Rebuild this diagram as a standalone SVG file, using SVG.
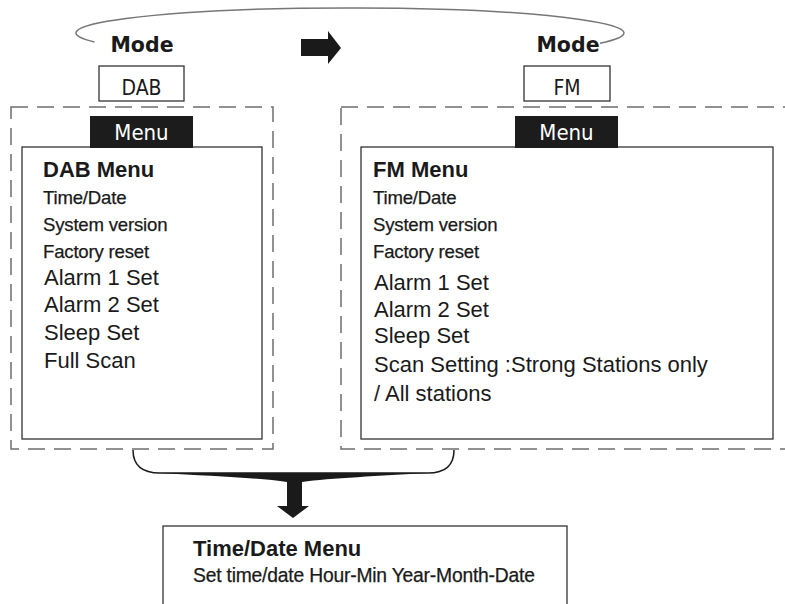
<svg xmlns="http://www.w3.org/2000/svg" width="785" height="604" viewBox="0 0 785 604">
<style>
.dash{fill:none;stroke:#6e6e6e;stroke-width:1.5;stroke-dasharray:17 9}
.box{fill:#fff;stroke:#333;stroke-width:1.3}
.tab{fill:#1c1c1c}
.tabtxt{font-family:"DejaVu Sans Condensed","DejaVu Sans",sans-serif;font-size:22px;fill:#fff;text-anchor:middle}
.mode{font-family:"DejaVu Sans",sans-serif;font-weight:bold;font-size:20.5px;fill:#1a1a1a;text-anchor:middle}
.modeval{font-family:"DejaVu Sans Condensed","DejaVu Sans",sans-serif;font-size:21px;fill:#1a1a1a;text-anchor:middle}
.h{font-family:"Liberation Sans",Arial,sans-serif;font-weight:bold;font-size:22px;fill:#1a1a1a}
.s{font-family:"Liberation Sans",Arial,sans-serif;font-size:18.6px;fill:#1a1a1a;letter-spacing:-0.2px;stroke:#1a1a1a;stroke-width:0.25}
.l{font-family:"Liberation Sans",Arial,sans-serif;font-size:22px;fill:#1a1a1a}
.blk{fill:#1a1a1a}
</style>

<g id="connectors">
  <path d="M94.4,42 A274,25 0 1 1 600,43.2" fill="none" stroke="#777" stroke-width="1.5"/>
  <path class="blk" d="M301,39 H328 V31 L341,48 L328,64 V56 H301 Z"/>
  <path d="M133,450 C133,465 142,473 160,473 H428 C446,473 454,465 454,450" fill="none" stroke="#1a1a1a" stroke-width="1.5"/>
  <path class="blk" d="M160,473 H428 C380,476 330,478 302,482 V506 H309 L293,518 L277,506 H287 V482 C260,478 210,476 160,473 Z"/>
</g>

<g id="mode-dab">
  <text class="mode" x="142" y="52">Mode</text>
  <rect x="99" y="66" width="85" height="35" fill="#fff" stroke="#333" stroke-width="1.3"/>
  <text class="modeval" x="141.5" y="95">DAB</text>
</g>

<g id="mode-fm">
  <text class="mode" x="568" y="52">Mode</text>
  <rect x="524" y="66" width="86" height="35" fill="#fff" stroke="#333" stroke-width="1.3"/>
  <text class="modeval" x="567" y="95">FM</text>
</g>

<g id="dab-panel">
  <rect class="dash" x="11" y="107" width="262" height="342"/>
  <rect class="box" x="22" y="147" width="240" height="292"/>
  <rect class="tab" x="90" y="116" width="103" height="32"/>
  <text class="tabtxt" x="141.5" y="140">Menu</text>
  <text class="h" x="43" y="177">DAB Menu</text>
  <text class="s" x="43" y="204">Time/Date</text>
  <text class="s" x="43" y="231">System version</text>
  <text class="s" x="43" y="258">Factory reset</text>
  <text class="l" x="44" y="285">Alarm 1 Set</text>
  <text class="l" x="44" y="312">Alarm 2 Set</text>
  <text class="l" x="44" y="340">Sleep Set</text>
  <text class="l" x="44" y="368">Full Scan</text>
</g>

<g id="fm-panel">
  <rect class="dash" x="341" y="107" width="460" height="342"/>
  <rect class="box" x="361" y="147" width="412" height="292"/>
  <rect class="tab" x="515" y="116" width="103" height="32"/>
  <text class="tabtxt" x="566.5" y="140">Menu</text>
  <text class="h" x="373" y="177">FM Menu</text>
  <text class="s" x="373" y="204">Time/Date</text>
  <text class="s" x="373" y="231">System version</text>
  <text class="s" x="373" y="258">Factory reset</text>
  <text class="l" x="374" y="290">Alarm 1 Set</text>
  <text class="l" x="374" y="317">Alarm 2 Set</text>
  <text class="l" x="374" y="343">Sleep Set</text>
  <text class="l" x="374" y="372">Scan Setting :Strong Stations only</text>
  <text class="l" x="374" y="401">/ All stations</text>
</g>

<g id="timedate-menu">
  <rect class="box" x="163" y="526" width="404" height="90"/>
  <text class="h" x="193" y="556">Time/Date Menu</text>
  <text class="s" x="193" y="582" style="font-size:19.3px">Set time/date Hour-Min Year-Month-Date</text>
</g>
</svg>
